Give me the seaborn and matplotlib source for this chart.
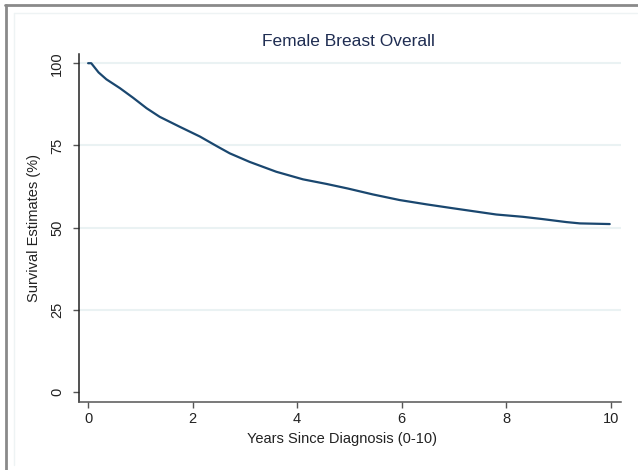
import matplotlib
matplotlib.use("Agg")
import matplotlib.pyplot as plt
from matplotlib.lines import Line2D
import seaborn as sns
import pandas as pd

# Kaplan-Meier style overall survival estimates (years since diagnosis, percent surviving)
years = [0.0, 0.06, 0.20, 0.35, 0.61, 0.86, 1.12, 1.37, 1.75, 2.14, 2.46, 2.71, 3.09, 3.60,
         4.11, 4.56, 4.97, 5.45, 5.96, 6.47, 6.98, 7.46, 7.81, 8.32, 8.70, 9.15, 9.41, 9.98]
survival = [100.0, 100.0, 97.2, 95.1, 92.4, 89.5, 86.3, 83.7, 80.7, 77.7, 74.8, 72.6, 70.0, 67.0,
            64.7, 63.3, 61.9, 60.1, 58.4, 57.1, 55.9, 54.8, 54.0, 53.3, 52.6, 51.7, 51.3, 51.1]
x_ticks = [0, 2, 4, 6, 8, 10]
y_ticks = [0, 25, 50, 75, 100]

title = "Female Breast Overall"
x_label = "Years Since Diagnosis (0-10)"
y_label = "Survival Estimates (%)"

df = pd.DataFrame({"years": years, "survival": survival})

sns.set_theme(style="white")
plt.rcParams["font.family"] = ["Liberation Sans", "DejaVu Sans"]

W, H = 638, 470
fig = plt.figure(figsize=(W / 100, H / 100), dpi=100)
fig.patch.set_facecolor("white")

ax_w = 620.7 - 78.7
ax_h = 402 - 54
ax = fig.add_axes([78.7 / W, 1 - 402 / H, ax_w / W, ax_h / H])

sns.lineplot(data=df, x="years", y="survival", ax=ax, color="#1a476f",
             linewidth=1.6, estimator=None)

ax.set_xlim(-0.18, 10.19)
ax.set_ylim(-3.0, 102.8)

# light horizontal grid (not at zero)
for v in y_ticks[1:]:
    ax.axhline(v, color="#eaf2f3", linewidth=1.5, zorder=0)

ax.set_xticks(x_ticks)
ax.set_yticks(y_ticks)
ax.set_xticklabels([str(t) for t in x_ticks], fontsize=10.5, color="#222222")
ax.set_yticklabels([str(t) for t in y_ticks], fontsize=10.5, color="#222222",
                   rotation=90, va="center")
ax.tick_params(axis="x", direction="out", length=4, width=1, color="#555555", pad=3.5,
               bottom=True)
ax.tick_params(axis="y", direction="out", length=4.5, width=1, color="#555555", pad=6,
               left=True)

for side in ("top", "right"):
    ax.spines[side].set_visible(False)
ax.spines["left"].set_color("#222222")
ax.spines["bottom"].set_color("#555555")
ax.spines["left"].set_linewidth(1.1)
ax.spines["bottom"].set_linewidth(1.1)

ax.set_xlabel(x_label, fontsize=10.5, color="#222222")
ax.set_ylabel(y_label, fontsize=10.5, color="#222222")
ax.xaxis.set_label_coords((342 - 78.7) / ax_w, (402 - 432) / ax_h)
ax.yaxis.set_label_coords((41 - 78.7) / ax_w, 0.5)

fig.text(348 / W, 1 - 41 / H, title, ha="center", va="center",
         fontsize=12.5, color="#1f2d52")

# outer and inner frame lines
def px_line(x0, y0, x1, y1, color, lw):
    fig.add_artist(Line2D([x0 / W, x1 / W], [1 - y0 / H, 1 - y1 / H],
                          transform=fig.transFigure, color=color, linewidth=lw))

px_line(6, 5, 6, H, "#8a8a8a", 2.0)
px_line(5, 5, W, 5, "#8a8a8a", 2.0)
px_line(14, 13, 14, 465, "#eef3f4", 1.0)
px_line(14, 13, 637, 13, "#eef3f4", 1.0)

fig.savefig("out.png", dpi=100, facecolor="white")
